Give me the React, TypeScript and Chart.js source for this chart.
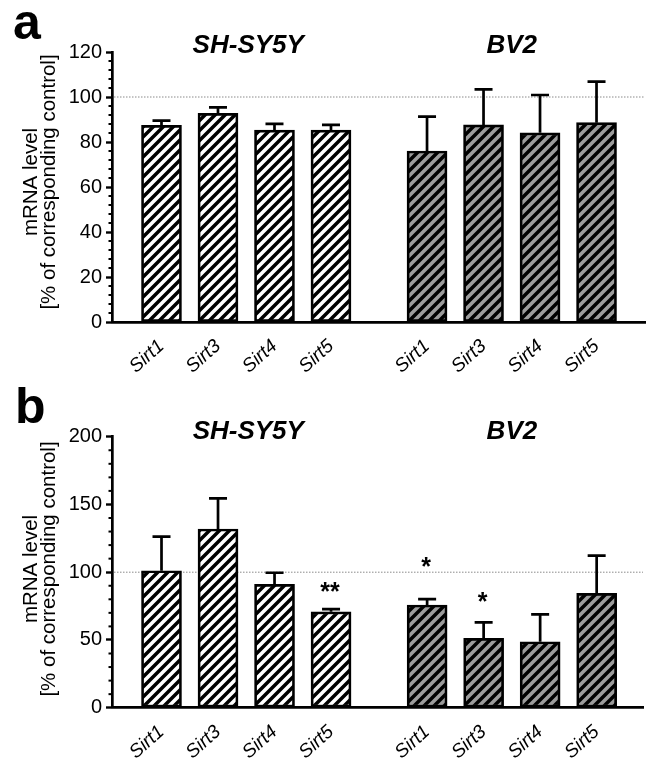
import React, { useEffect, useRef } from 'react';
import { Chart, registerables } from 'chart.js';

Chart.register(...registerables);

// ---------- data ----------
const categories = ['Sirt1', 'Sirt3', 'Sirt4', 'Sirt5'];
const cellLines = ['SH-SY5Y', 'BV2'];
const shPositions = [1, 2, 3, 4];
const bvPositions = [5.7, 6.7, 7.7, 8.7];

const aTicks = [0, 20, 40, 60, 80, 100, 120];
const bTicks = [0, 50, 100, 150, 200];

const aShMean = [87.4, 92.7, 85.3, 85.3];
const aShErr = [2.1, 2.7, 2.8, 2.3];
const aBvMean = [76.0, 87.6, 84.1, 88.6];
const aBvErr = [15.3, 15.8, 16.8, 18.2];

const bShMean = [101.1, 131.9, 91.1, 70.8];
const bShErr = [25.1, 22.6, 8.5, 2.0];
const bBvMean = [75.8, 51.2, 48.7, 84.4];
const bBvErr = [4.4, 11.8, 20.2, 27.8];

const aShStars = ['', '', '', ''];
const aBvStars = ['', '', '', ''];
const bShStars = ['', '', '', '**'];
const bBvStars = ['*', '*', '', ''];

const referenceLevel = 100;
const yTitle = ['mRNA level', '[% of corresponding control]'];

const FONT = '"Liberation Sans", Arial, Helvetica, sans-serif';

type PanelCfg = {
  letter: string;
  ticks: number[];
  minorStep: number;
  shMean: number[];
  shErr: number[];
  bvMean: number[];
  bvErr: number[];
  shStars: string[];
  bvStars: string[];
  starOffsets: number[]; // px above error cap, per bar (sh then bv)
  padTop: number;
  padRight: number;
  xAxisHeight: number;
  xMin: number;
  xMax: number;
  titleY: number;
  letterX: number;
  letterY: number;
  yTitleCy: number;
};

function makePattern(bg: string): CanvasPattern | string {
  const s = 10;
  const c = document.createElement('canvas');
  c.width = s;
  c.height = s;
  const g = c.getContext('2d');
  if (!g) return bg;
  g.fillStyle = bg;
  g.fillRect(0, 0, s, s);
  g.strokeStyle = '#000';
  g.lineWidth = 3.5;
  g.lineCap = 'square';
  g.beginPath();
  g.moveTo(-s / 2, s / 2);
  g.lineTo(s / 2, -s / 2);
  g.moveTo(0, s);
  g.lineTo(s, 0);
  g.moveTo(s / 2, s * 1.5);
  g.lineTo(s * 1.5, s / 2);
  g.stroke();
  const p = g.createPattern(c, 'repeat');
  return p || bg;
}

function Panel({ cfg, top }: { cfg: PanelCfg; top: number }) {
  const ref = useRef<HTMLCanvasElement | null>(null);

  useEffect(() => {
    const canvas = ref.current;
    if (!canvas) return;
    const positions = [...shPositions, ...bvPositions];
    const yMax = cfg.ticks[cfg.ticks.length - 1];
    const majorStep = cfg.ticks[1] - cfg.ticks[0];

    const overlay = {
      id: 'overlay' + cfg.letter,
      beforeDatasetsDraw(chart: any) {
        const { ctx, chartArea, scales } = chart;
        const y = scales.y.getPixelForValue(referenceLevel);
        ctx.save();
        ctx.strokeStyle = '#8a8a8a';
        ctx.lineWidth = 1;
        ctx.setLineDash([1.5, 1.5]);
        ctx.beginPath();
        ctx.moveTo(chartArea.left + 2, y);
        ctx.lineTo(chartArea.right, y);
        ctx.stroke();
        ctx.restore();
      },
      afterDatasetsDraw(chart: any) {
        const { ctx, scales } = chart;
        const errs = [cfg.shErr, cfg.bvErr];
        const means = [cfg.shMean, cfg.bvMean];
        const stars = [cfg.shStars, cfg.bvStars];
        ctx.save();
        ctx.strokeStyle = '#000';
        ctx.lineWidth = 2.7;
        ctx.lineCap = 'butt';
        for (let d = 0; d < 2; d++) {
          const meta = chart.getDatasetMeta(d);
          meta.data.forEach((el: any, i: number) => {
            const x = el.x;
            const yTop = el.y;
            const yErr = scales.y.getPixelForValue(means[d][i] + errs[d][i]);
            ctx.beginPath();
            ctx.moveTo(x, yTop);
            ctx.lineTo(x, yErr);
            ctx.moveTo(x - 9, yErr);
            ctx.lineTo(x + 9, yErr);
            ctx.stroke();
            const s = stars[d][i];
            if (s) {
              ctx.fillStyle = '#000';
              ctx.font = `bold 25px ${FONT}`;
              ctx.textAlign = 'center';
              ctx.textBaseline = 'alphabetic';
              ctx.fillText(s, x - 1, yErr - cfg.starOffsets[d * 4 + i] + 13);
            }
          });
        }
        ctx.restore();
      },
      afterDraw(chart: any) {
        const { ctx, chartArea, scales } = chart;
        ctx.save();
        // minor ticks
        ctx.strokeStyle = '#000';
        ctx.lineWidth = 2;
        const minorCount = Math.round(yMax / cfg.minorStep);
        for (let k = 0; k <= minorCount; k++) {
          const v = k * cfg.minorStep;
          if (Math.abs(v / majorStep - Math.round(v / majorStep)) < 1e-6) continue;
          const y = scales.y.getPixelForValue(v);
          ctx.beginPath();
          ctx.moveTo(chartArea.left - 3.5, y);
          ctx.lineTo(chartArea.left, y);
          ctx.stroke();
        }
        // group titles
        ctx.fillStyle = '#000';
        ctx.font = `italic bold 26px ${FONT}`;
        ctx.textAlign = 'center';
        ctx.textBaseline = 'middle';
        const shC = (shPositions[0] + shPositions[shPositions.length - 1]) / 2;
        const bvC = (bvPositions[0] + bvPositions[bvPositions.length - 1]) / 2;
        ctx.fillText(cellLines[0], scales.x.getPixelForValue(shC) + 2, cfg.titleY);
        ctx.fillText(cellLines[1], scales.x.getPixelForValue(bvC), cfg.titleY);
        // panel letter
        ctx.font = `bold 50px ${FONT}`;
        ctx.textAlign = 'left';
        ctx.textBaseline = 'alphabetic';
        ctx.fillText(cfg.letter, cfg.letterX, cfg.letterY);
        // y title
        ctx.font = `20.5px ${FONT}`;
        ctx.textAlign = 'center';
        const baselines = [37, 55];
        yTitle.forEach((t, i) => {
          ctx.save();
          ctx.translate(baselines[i], cfg.yTitleCy);
          ctx.rotate(-Math.PI / 2);
          ctx.fillText(t, 0, 0);
          ctx.restore();
        });
        ctx.restore();
      },
    };

    const chart = new Chart(canvas, {
      type: 'bar',
      data: {
        datasets: [
          {
            label: cellLines[0],
            data: shPositions.map((x, i) => ({ x, y: cfg.shMean[i] })),
            backgroundColor: makePattern('#ffffff') as any,
            borderColor: '#000',
            borderWidth: 2.7,
            borderSkipped: false,
            barThickness: 40,
            grouped: false,
          } as any,
          {
            label: cellLines[1],
            data: bvPositions.map((x, i) => ({ x, y: cfg.bvMean[i] })),
            backgroundColor: makePattern('#9c9c9c') as any,
            borderColor: '#000',
            borderWidth: 2.7,
            borderSkipped: false,
            barThickness: 40,
            grouped: false,
          } as any,
        ],
      },
      options: {
        responsive: false,
        animation: false,
        devicePixelRatio: 1,
        events: [],
        layout: { padding: { left: 0, right: cfg.padRight, top: cfg.padTop, bottom: 0 } },
        plugins: { legend: { display: false }, tooltip: { enabled: false } },
        scales: {
          x: {
            type: 'linear',
            min: cfg.xMin,
            max: cfg.xMax,
            offset: false,
            afterBuildTicks: (axis: any) => {
              axis.ticks = positions.map((v) => ({ value: v }));
            },
            afterFit: (axis: any) => {
              axis.height = cfg.xAxisHeight;
            },
            grid: { display: false, drawTicks: false },
            border: { display: true, color: '#000', width: 2.7 },
            ticks: {
              autoSkip: false,
              minRotation: 42,
              maxRotation: 42,
              padding: 13,
              color: '#000',
              font: { family: FONT, size: 19, style: 'italic' },
              callback: (_v: any, i: number) => categories[i % categories.length],
            },
          },
          y: {
            min: 0,
            max: yMax,
            afterBuildTicks: (axis: any) => {
              axis.ticks = cfg.ticks.map((v) => ({ value: v }));
            },
            afterFit: (axis: any) => {
              axis.width = 112;
            },
            grid: {
              drawOnChartArea: false,
              drawTicks: true,
              tickLength: 6,
              tickWidth: 2.4,
              color: '#000',
            },
            border: { display: true, color: '#000', width: 2.7 },
            ticks: {
              padding: 4,
              color: '#000',
              font: { family: FONT, size: 20 },
            },
          },
        },
      } as any,
      plugins: [overlay as any],
    });
    return () => chart.destroy();
  }, [cfg]);

  return (
    <canvas
      ref={ref}
      width={647}
      height={380}
      style={{ position: 'absolute', left: 0, top, width: 647, height: 380, display: 'block' }}
    />
  );
}

const panelA: PanelCfg = {
  letter: 'a',
  ticks: aTicks,
  minorStep: 4,
  shMean: aShMean,
  shErr: aShErr,
  bvMean: aBvMean,
  bvErr: aBvErr,
  shStars: aShStars,
  bvStars: aBvStars,
  starOffsets: [0, 0, 0, 0, 0, 0, 0, 0],
  padTop: 52,
  padRight: 2,
  xAxisHeight: 58,
  xMin: 0.124,
  xMax: 9.558,
  titleY: 46,
  letterX: 13,
  letterY: 39,
  yTitleCy: 182,
};

const panelB: PanelCfg = {
  letter: 'b',
  ticks: bTicks,
  minorStep: 10,
  shMean: bShMean,
  shErr: bShErr,
  bvMean: bBvMean,
  bvErr: bBvErr,
  shStars: bShStars,
  bvStars: bBvStars,
  starOffsets: [0, 0, 0, 22, 37, 25, 0, 0],
  padTop: 56.7,
  padRight: 4,
  xAxisHeight: 52.3,
  xMin: 0.124,
  xMax: 9.52,
  titleY: 52,
  letterX: 15,
  letterY: 43,
  yTitleCy: 189,
};

export default function App() {
  return (
    <div style={{ position: 'absolute', left: 0, top: 0, width: 647, height: 760, background: '#fff' }}>
      <Panel cfg={panelA} top={0} />
      <Panel cfg={panelB} top={380} />
    </div>
  );
}
